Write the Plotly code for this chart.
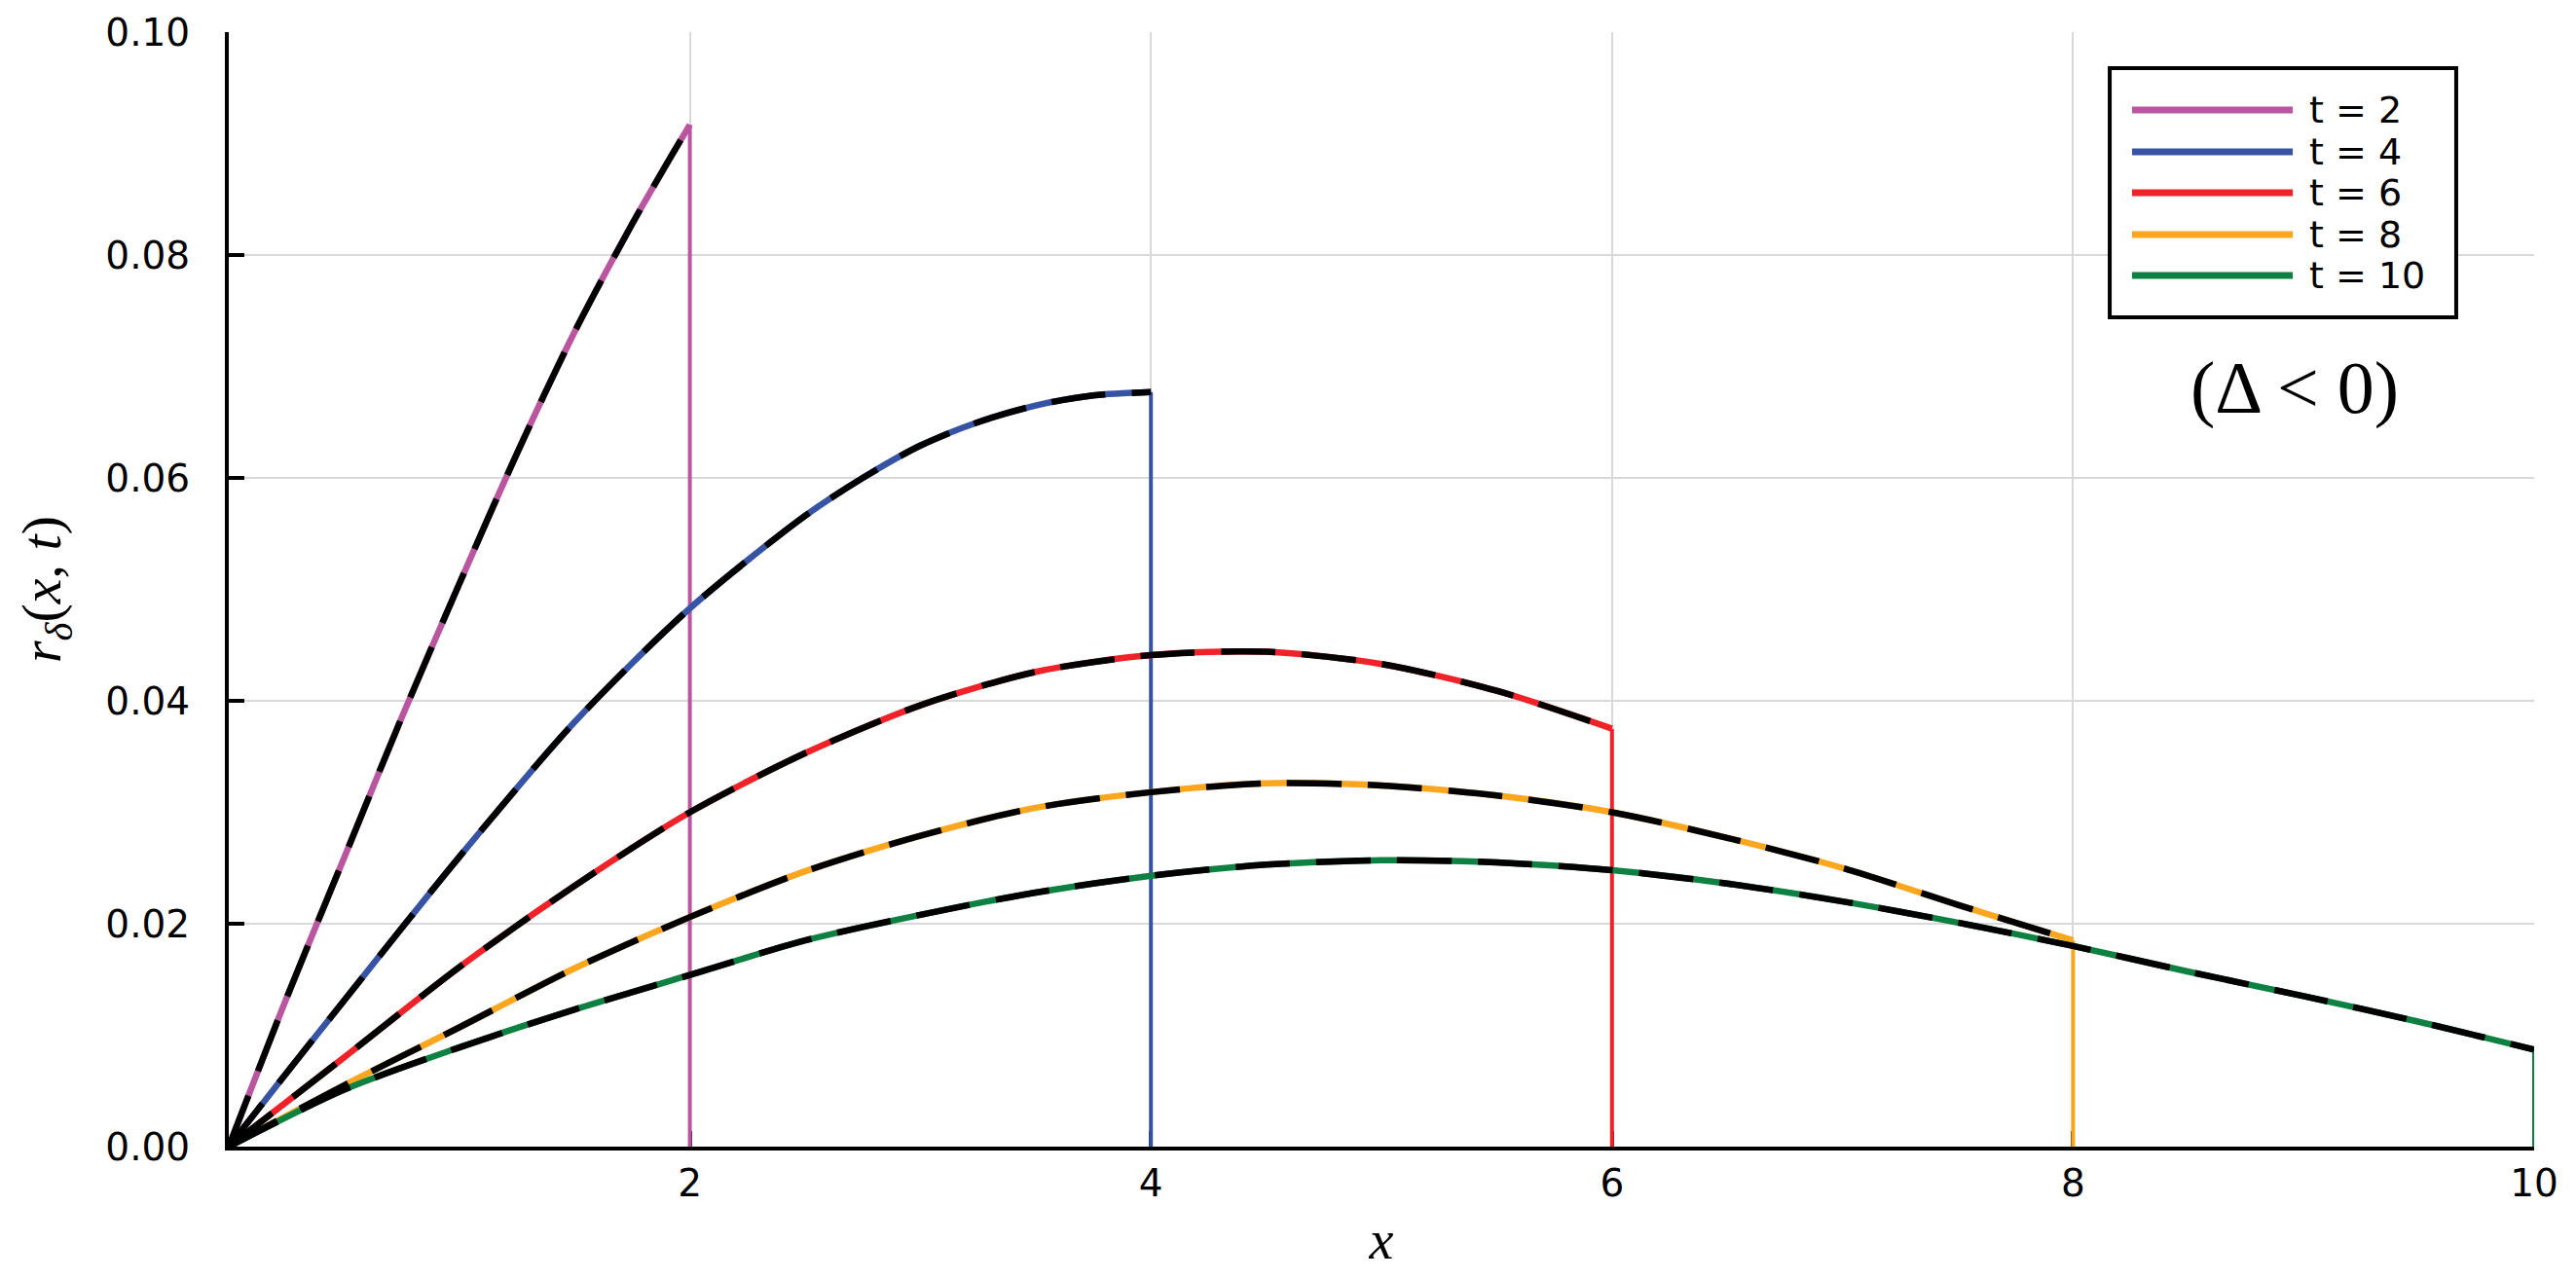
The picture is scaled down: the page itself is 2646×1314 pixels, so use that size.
import plotly.graph_objs as go

# values
x_t2 = [0, 0.25, 0.5, 0.75, 1.0, 1.25, 1.5, 1.75, 1.9, 2.0]
r_t2 = [0, 0.0133, 0.0259, 0.0385, 0.0505, 0.0622, 0.0731, 0.0828, 0.0882, 0.0917]

x_t4 = [0, 0.25, 0.5, 0.75, 1.0, 1.5, 2.0, 2.5, 2.75, 3.0, 3.25, 3.5, 3.75, 4.0]
r_t4 = [0, 0.0066, 0.0131, 0.0196, 0.0260, 0.0381, 0.0483, 0.0566, 0.0600, 0.0629, 0.0650, 0.0665,
        0.0674, 0.0677]

x_t6 = [0, 0.5, 1.0, 1.5, 2.0, 2.5, 3.0, 3.5, 4.0, 4.5, 5.0, 5.5, 6.0]
r_t6 = [0, 0.0080, 0.0161, 0.0234, 0.0300, 0.0353, 0.0396, 0.0426, 0.0441, 0.0444, 0.0433, 0.0409, 0.0375]

x_t8 = [0, 0.5, 1.0, 1.5, 2.0, 2.5, 3.0, 3.5, 4.0, 4.5, 5.0, 5.5, 6.0, 6.5, 7.0, 7.5, 8.0]
r_t8 = [0, 0.0055, 0.0107, 0.0160, 0.0206, 0.0247, 0.0279, 0.0304, 0.0318, 0.0326, 0.0324, 0.0315,
        0.0300, 0.0277, 0.0250, 0.0217, 0.0185]

x_t10 = [0, 0.5, 1.0, 1.5, 2.0, 2.5, 3.0, 3.5, 4.0, 4.5, 5.0, 5.5, 6.0, 6.5, 7.0, 7.5, 8.0, 8.5, 9.0,
         9.5, 10.0]
r_t10 = [0, 0.0051, 0.0089, 0.0123, 0.0154, 0.0185, 0.0208, 0.0228, 0.0243, 0.0253, 0.0257, 0.0255,
         0.0248, 0.0236, 0.0220, 0.0201, 0.0180, 0.0157, 0.0135, 0.0112, 0.0087]

labels = ['t = 2', 't = 4', 't = 6', 't = 8', 't = 10']
colors = ['#B9569F', '#3754A4', '#EE2228', '#FAA61E', '#0D8042']
xs = [x_t2, x_t4, x_t6, x_t8, x_t10]
rs = [r_t2, r_t4, r_t6, r_t8, r_t10]

x_ticks = [2, 4, 6, 8, 10]
y_ticks = [0, 0.02, 0.04, 0.06, 0.08, 0.10]

fig = go.Figure()

for name, col, x, r in zip(labels, colors, xs, rs):
    # numerical solution (coloured) with the drop at the front
    fig.add_trace(go.Scatter(x=x, y=r, name=name, mode='lines',
                             line=dict(color=col, width=6.5, shape='spline', smoothing=0.8),
                             showlegend=False))
    fig.add_trace(go.Scatter(x=[x[-1], x[-1]], y=[r[-1], 0], mode='lines',
                             line=dict(color=col, width=4),
                             showlegend=False, hoverinfo='skip'))

for name, x, r in zip(labels, xs, rs):
    # exact solution, black dashes on top
    fig.add_trace(go.Scatter(x=x, y=r, name=name + ' exact', mode='lines',
                             line=dict(color='black', width=6.5, dash='56px,27px', shape='spline',
                                       smoothing=0.8),
                             showlegend=False))

# hand-made legend box so the line samples are long like the original
shapes = [dict(type='rect', xref='paper', yref='paper', x0=0.8159, x1=0.9662, y0=0.7441, y1=0.9677,
               fillcolor='white', line=dict(color='black', width=4), layer='above')]
annotations = []
row_y = [0.9301, 0.8926, 0.8559, 0.8183, 0.7817]
for name, col, yy in zip(labels, colors, row_y):
    shapes.append(dict(type='line', xref='paper', yref='paper', x0=0.8256, x1=0.8953, y0=yy, y1=yy,
                       line=dict(color=col, width=7), layer='above'))
    annotations.append(dict(xref='paper', yref='paper', x=0.9015, y=yy, text=name, showarrow=False,
                            xanchor='left', yanchor='middle',
                            font=dict(family='DejaVu Sans', size=38, color='black')))

annotations.append(dict(xref='paper', yref='paper', x=0.896, y=0.681, text='(Δ < 0)', showarrow=False,
                        xanchor='center', yanchor='middle',
                        font=dict(family='Liberation Serif', size=76, color='black')))

# page body adds 8px, so the figure is 8px smaller than the window
fig.update_layout(width=2638, height=1306,
                  margin=dict(l=227, r=43, t=25, b=136, autoexpand=False),
                  plot_bgcolor='white', paper_bgcolor='white',
                  showlegend=False,
                  font=dict(family='DejaVu Sans', size=39, color='black'),
                  shapes=shapes, annotations=annotations,
                  xaxis=dict(range=[0, 10], tickvals=x_ticks, ticks='inside', ticklen=16, tickwidth=4,
                             tickcolor='black', showline=True, linecolor='black', linewidth=4,
                             showgrid=True, gridcolor='#D9D9D9', gridwidth=2, zeroline=False,
                             automargin=False, layer='below traces',
                             title=dict(text='<i>x</i>', standoff=18,
                                        font=dict(family='Liberation Serif', size=56))),
                  yaxis=dict(range=[0, 0.1], tickvals=y_ticks, tickformat='.2f', ticks='inside',
                             ticklen=16, tickwidth=4, tickcolor='black', showline=True,
                             linecolor='black', linewidth=4, showgrid=True, gridcolor='#D9D9D9',
                             gridwidth=2, zeroline=False, automargin=False, layer='below traces',
                             ticklabelstandoff=28,
                             title=dict(text='<i>r</i><sub><i>δ</i></sub>(<i>x</i>, <i>t</i>)', standoff=28,
                                        font=dict(family='Liberation Serif', size=58))))

fig.write_html('out.html')
